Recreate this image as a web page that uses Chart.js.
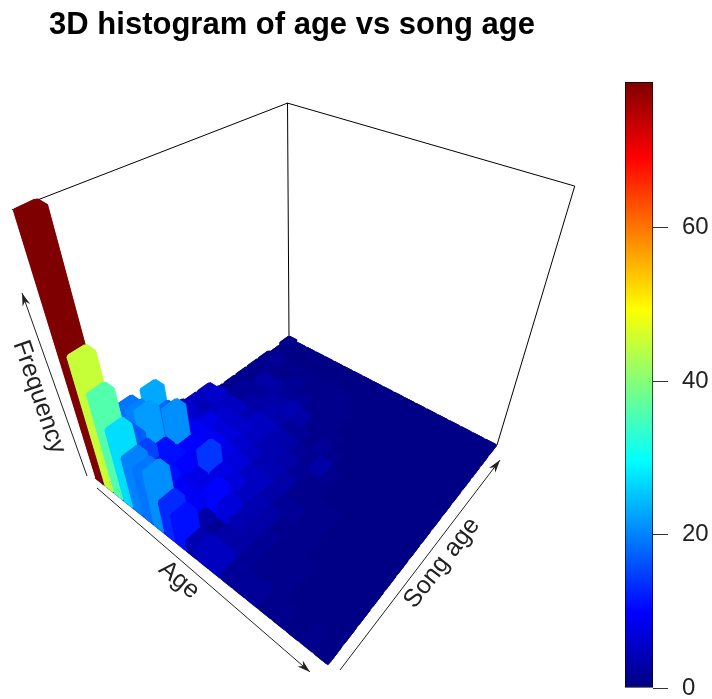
<!DOCTYPE html>
<html>
<head>
<meta charset="utf-8">
<style>
html,body{margin:0;padding:0;background:#fff;overflow:hidden}
#main{position:absolute;left:0;top:0}
#bar{position:absolute;left:584px;top:0}
canvas{filter:blur(0.4px)}
</style>
<script src="https://cdn.jsdelivr.net/npm/chart.js@4"></script>
</head>
<body>
<div id="main"><canvas id="histChart" width="584" height="699"></canvas></div>
<div id="bar"><canvas id="barChart" width="128" height="699"></canvas></div>
<script>
// counts per age bin (rows) and song age bin (columns)
const age00 = [79, 8,19,12, 5, 6, 5, 5, 1, 1, 1, 1, 1, 0, 1]
const age01 = [45,17,20,23, 7, 6, 4, 6, 2, 2, 1, 1, 2, 0, 0]
const age02 = [36,17,22,18, 8, 6, 5, 5, 2, 2, 3, 1, 1, 0, 0]
const age03 = [27,15,11,21, 9, 8, 6, 5, 3, 2, 3, 1, 1, 0, 0]
const age04 = [20,11,11,10, 9, 7, 6, 4, 3, 3, 2, 2, 1, 0, 0]
const age05 = [19,11,10, 9, 9, 7, 6, 5, 4, 3, 2, 1, 1, 0, 0]
const age06 = [21, 9, 8,14, 8, 6, 5, 5, 3, 4, 2, 1, 1, 0, 0]
const age07 = [13, 9, 8, 8, 7, 5, 4, 4, 2, 3, 1, 1, 1, 0, 0]
const age08 = [11, 3,10, 7, 5, 4, 4, 3, 2, 1, 1, 1, 1, 0, 0]
const age09 = [ 4, 2, 7, 5, 5, 4, 3, 2, 1, 1, 1, 1, 0, 0, 0]
const age10 = [ 5, 3, 4, 4, 3, 3, 2, 1, 2, 1, 0, 0, 0, 0, 0]
const age11 = [ 5, 3, 3, 3, 2, 1, 1, 3, 1, 0, 0, 0, 0, 0, 0]
const age12 = [ 2, 2, 2, 1, 2, 1, 1, 1, 0, 0, 0, 0, 0, 0, 0]
const age13 = [ 2, 1, 1, 1, 1, 1, 0, 0, 0, 0, 0, 0, 0, 0, 0]
const age14 = [ 2, 1, 1, 1, 1, 1, 0, 0, 0, 0, 0, 0, 0, 0, 0]
const age15 = [ 1, 1, 1, 0, 0, 0, 0, 0, 0, 0, 0, 0, 0, 0, 0]
const age16 = [ 1, 0, 0, 0, 0, 0, 0, 0, 0, 0, 0, 0, 0, 0, 0]
const age17 = [ 0, 0, 0, 0, 0, 0, 0, 0, 0, 0, 0, 0, 0, 0, 0]
const age18 = [ 1, 0, 0, 0, 0, 0, 0, 0, 0, 0, 0, 0, 0, 0, 0]
const age19 = [ 0, 0, 0, 0, 0, 0, 0, 0, 0, 0, 0, 0, 0, 0, 0]
const counts = [age00,age01,age02,age03,age04,age05,age06,age07,age08,age09,
                age10,age11,age12,age13,age14,age15,age16,age17,age18,age19]

const chartTitle = '3D histogram of age vs song age'
const zMax = 79
const colorTicks = [0,20,40,60]
const jetStops = ['#00007F','#0000FF','#007FFF','#00FFFF','#7FFF7F','#FFFF00','#FF7F00','#FF0000','#7F0000']
const fontName = '"Liberation Sans", Arial, sans-serif'

// view of the box: floor corners, height ratio at each corner, vanishing point of the verticals
const floorLeft = [95,478], floorFront = [328,665], floorBack = [289,338], floorRight = [497,445]
const riseLeft = 1.417, riseFront = 1.5, riseBack = 1.30, riseRight = 1.383
const vanish = [294,1121]

// square to quad, u runs left->front and v runs left->back
const homography = (function () {
    const [x0,y0] = floorLeft, [x1,y1] = floorFront, [x2,y2] = floorRight, [x3,y3] = floorBack
    const dx1 = x1-x2, dx2 = x3-x2, sx = x0-x1+x2-x3
    const dy1 = y1-y2, dy2 = y3-y2, sy = y0-y1+y2-y3
    const det = dx1*dy2 - dx2*dy1
    const g = (sx*dy2 - dx2*sy)/det, h = (dx1*sy - sx*dy1)/det
    return {a:x1-x0+g*x1, b:x3-x0+h*x3, c:x0, d:y1-y0+g*y1, e:y3-y0+h*y3, f:y0, g:g, h:h}
})()

function project (u, v, z) {
    const H = homography
    const w = H.g*u + H.h*v + 1
    const fx = (H.a*u + H.b*v + H.c)/w
    const fy = (H.d*u + H.e*v + H.f)/w
    const rise = riseLeft*(1-u)*(1-v) + riseFront*u*(1-v) + riseBack*(1-u)*v + riseRight*u*v
    const k = 1 / (1 - (z/zMax) * (1 - 1/rise))
    return {x: vanish[0] + (fx - vanish[0])*k, y: vanish[1] + (fy - vanish[1])*k}
}

function jetColor (val) {
    const t = Math.min(val/zMax, 1) * (jetStops.length - 1)
    const k = Math.min(Math.floor(t), jetStops.length - 2)
    const f = t - k
    const a = parseInt(jetStops[k].slice(1), 16), b = parseInt(jetStops[k+1].slice(1), 16)
    const ch = s => Math.round(((a>>s)&255)*(1-f) + ((b>>s)&255)*f)
    return 'rgb(' + ch(16) + ',' + ch(8) + ',' + ch(0) + ')'
}

const nAge = counts.length
const nSong = age00.length
const cut = 0.12

function polygon (pts, color) {
    return {
        type: 'line',
        data: pts,
        polygon: color,
        borderWidth: 0,
        pointRadius: 0,
        showLine: false,
        clip: false
    }
}

function barFaces (i, j) {
    const val = counts[i][j]
    const color = jetColor(Math.max(val, 0.6))
    const u0 = i/nAge, u1 = (i+1)/nAge, v0 = j/nSong, v1 = (j+1)/nSong
    const du = cut/nAge, dv = cut/nSong
    const z = val
    const ring = [[u0+du,v0],[u1-du,v0],[u1,v0+dv],[u1,v1-dv],[u1-du,v1],[u0+du,v1],[u0,v1-dv],[u0,v0+dv]]
    const faces = []
    // walls first, then the top; the top has its corners cut off
    ring.forEach((p, k) => {
        const q = ring[(k+1) % ring.length]
        faces.push(polygon([project(p[0],p[1],0),project(q[0],q[1],0),project(q[0],q[1],z),project(p[0],p[1],z)], color))
    })
    faces.push(polygon(ring.map(p => project(p[0],p[1],z)), color))
    return faces
}

// back to front: far from the front corner first
const cells = []
for (let i = 0; i < nAge; i++) {
    for (let j = 0; j < nSong; j++) cells.push([i,j])
}
cells.sort((a,b) => (a[0]/nAge - a[1]/nSong) - (b[0]/nAge - b[1]/nSong))

const boxLine = (pts) => ({type:'line', data:pts, borderColor:'#000', borderWidth:1, pointRadius:0, clip:false, tension:0})
const arrow = (from, to) => ({type:'line', data:[{x:from[0],y:from[1]},{x:to[0],y:to[1]}], borderColor:'#222', borderWidth:1, pointRadius:0, clip:false, arrowHead:true})

let datasets = [
    boxLine([project(0,0,zMax),project(0,1,zMax),project(1,1,zMax)]),
    boxLine([project(0,1,0),project(0,1,zMax)]),
    boxLine([project(1,1,0),project(1,1,zMax)]),
    polygon([project(0,0,0),project(1,0,0),project(1,1,0),project(0,1,0)], jetColor(0.6))
]
cells.forEach(c => { datasets = datasets.concat(barFaces(c[0],c[1])) })
datasets.push(arrow([87,476],[22,293]), arrow([97,488],[310,672]), arrow([340,670],[500,460]))
// chart.js paints the first dataset last
datasets.forEach((d, k) => { d.order = datasets.length - k })

const axisLabels = [
    {text:'Frequency', x:39, y:397, angle:71},
    {text:'Age', x:179, y:580, angle:40},
    {text:'Song age', x:442, y:563, angle:-52}
]

const polygonPlugin = {
    id: 'polygonPlugin',
    beforeDatasetDraw (chart, args) {
        const ds = chart.data.datasets[args.index]
        const pts = args.meta.data
        const ctx = chart.ctx
        if (ds.polygon) {
            ctx.save()
            ctx.beginPath()
            pts.forEach((p, k) => k ? ctx.lineTo(p.x, p.y) : ctx.moveTo(p.x, p.y))
            ctx.closePath()
            ctx.fillStyle = ds.polygon
            ctx.strokeStyle = ds.polygon
            ctx.lineWidth = 0.6
            ctx.fill()
            ctx.stroke()
            ctx.restore()
        }
        if (ds.arrowHead) {
            const a = pts[0], b = pts[1]
            const ang = Math.atan2(b.y-a.y, b.x-a.x)
            ctx.save()
            ctx.translate(b.x, b.y)
            ctx.rotate(ang)
            ctx.beginPath()
            ctx.moveTo(0,0)
            ctx.lineTo(-13,-4)
            ctx.lineTo(-9,0)
            ctx.lineTo(-13,4)
            ctx.closePath()
            ctx.fillStyle = '#222'
            ctx.fill()
            ctx.restore()
        }
    },
    afterDraw (chart) {
        const ctx = chart.ctx
        axisLabels.forEach(l => {
            ctx.save()
            ctx.translate(chart.scales.x.getPixelForValue(l.x), chart.scales.y.getPixelForValue(l.y))
            ctx.rotate(l.angle*Math.PI/180)
            ctx.font = '25px ' + fontName
            ctx.fillStyle = '#222'
            ctx.textAlign = 'center'
            ctx.textBaseline = 'middle'
            ctx.fillText(l.text, 0, 0)
            ctx.restore()
        })
    }
}

new Chart(document.getElementById('histChart'), {
    type: 'line',
    data: {datasets: datasets},
    plugins: [polygonPlugin],
    options: {
        responsive: false,
        animation: false,
        events: [],
        parsing: false,
        normalized: true,
        layout: {padding: 0},
        plugins: {
            legend: {display: false},
            tooltip: {enabled: false},
            title: {
                display: true,
                text: chartTitle,
                color: '#000',
                font: {family: fontName, size: 31, weight: 'bold', lineHeight: 1.2},
                padding: {top: 7, bottom: 15.8}
            }
        },
        scales: {
            x: {type: 'linear', display: false, min: 0, max: 584},
            y: {type: 'linear', display: false, min: 60, max: 699, reverse: true}
        }
    }
})

new Chart(document.getElementById('barChart'), {
    type: 'bar',
    data: {
        labels: ['count'],
        datasets: [{
            data: [[0, zMax]],
            borderColor: '#000',
            borderWidth: 1,
            borderSkipped: false,
            barPercentage: 1,
            categoryPercentage: 1,
            backgroundColor (c) {
                const area = c.chart.chartArea
                if (!area) return '#000'
                const g = c.chart.ctx.createLinearGradient(0, area.bottom, 0, area.top)
                jetStops.forEach((s, k) => g.addColorStop(k/(jetStops.length-1), s))
                return g
            }
        }]
    },
    options: {
        responsive: false,
        animation: false,
        events: [],
        layout: {padding: {left: 41, top: 82, bottom: 11, right: 3}},
        plugins: {legend: {display: false}, tooltip: {enabled: false}, title: {display: false}},
        scales: {
            x: {display: false},
            y: {
                position: 'right',
                min: 0,
                max: zMax,
                afterBuildTicks (axis) { axis.ticks = colorTicks.map(v => ({value: v})) },
                afterFit (axis) { axis.paddingTop = 0; axis.paddingBottom = 0; axis.width = 56 },
                border: {display: false},
                grid: {drawOnChartArea: false, drawTicks: true, tickLength: 15, color: '#333'},
                ticks: {color: '#222', padding: 14, font: {family: fontName, size: 24}}
            }
        }
    }
})
</script>
</body>
</html>
